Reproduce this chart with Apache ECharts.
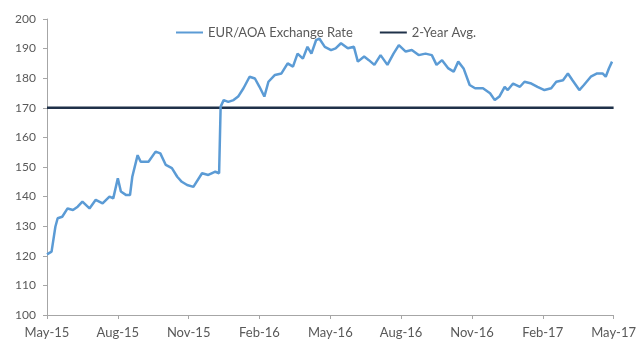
<!DOCTYPE html>
<html>
<head>
<meta charset="utf-8">
<script src="https://cdn.jsdelivr.net/npm/echarts@6/dist/echarts.min.js"></script>
<style>
  html, body { margin: 0; padding: 0; background: #fff; }
  #chart { width: 639px; height: 340px; }
</style>
</head>
<body>
<div id="chart"></div>
<script>
// EUR/AOA exchange rate, May 2015 – May 2017
const rateDates = [
  '2015-05-01','2015-05-07','2015-05-12','2015-05-15','2015-05-21','2015-05-28',
  '2015-06-04','2015-06-10','2015-06-16','2015-06-25','2015-07-03','2015-07-12',
  '2015-07-21','2015-07-26','2015-08-01','2015-08-05','2015-08-12','2015-08-17',
  '2015-08-20','2015-08-27','2015-08-31','2015-09-10','2015-09-19','2015-09-25',
  '2015-10-02','2015-10-10','2015-10-17','2015-10-23','2015-10-30','2015-11-07',
  '2015-11-09','2015-11-18','2015-11-26','2015-12-05','2015-12-10','2015-12-12',
  '2015-12-16','2015-12-22','2015-12-29','2016-01-04','2016-01-11','2016-01-19',
  '2016-01-26','2016-02-01','2016-02-07','2016-02-12','2016-02-20','2016-02-28',
  '2016-03-07','2016-03-14','2016-03-20','2016-03-27','2016-04-02','2016-04-07',
  '2016-04-13','2016-04-17','2016-04-24','2016-05-02','2016-05-08','2016-05-15',
  '2016-05-24','2016-06-01','2016-06-06','2016-06-14','2016-06-20','2016-06-27',
  '2016-07-05','2016-07-14','2016-07-22','2016-07-29','2016-08-07','2016-08-15',
  '2016-08-24','2016-09-02','2016-09-10','2016-09-16','2016-09-23','2016-10-01',
  '2016-10-08','2016-10-14','2016-10-21','2016-10-29','2016-11-05','2016-11-15',
  '2016-11-24','2016-11-30','2016-12-06','2016-12-13','2016-12-17','2016-12-24',
  '2017-01-02','2017-01-08','2017-01-17','2017-01-25','2017-02-03','2017-02-11',
  '2017-02-17','2017-02-25','2017-03-03','2017-03-09','2017-03-18','2017-03-24',
  '2017-04-02','2017-04-10','2017-04-17','2017-04-21','2017-04-25','2017-04-29'
];
const rateValues = [
  120.5,121.4,129.8,132.7,133.2,136.0,
  135.5,136.6,138.3,136.0,138.9,137.7,
  140.0,139.4,146.2,141.7,140.5,140.5,
  146.7,154.0,151.8,151.8,155.2,154.6,
  150.7,149.6,146.7,145.0,143.9,143.3,
  143.9,147.9,147.3,148.4,147.9,170.4,
  172.6,172.0,172.6,173.8,176.6,180.5,
  179.9,177.1,173.8,178.8,181.1,181.6,
  185.0,183.9,188.3,186.6,190.6,188.3,
  192.9,193.4,190.6,189.5,190.1,191.8,
  190.1,190.6,185.6,187.3,186.1,184.5,
  187.8,184.5,188.3,191.2,189.0,189.5,
  187.8,188.3,187.8,184.5,186.1,183.3,
  182.2,185.6,183.3,177.7,176.6,176.6,
  174.9,172.6,173.8,177.1,176.0,178.2,
  177.1,178.8,178.2,177.1,176.0,176.6,
  178.8,179.3,181.6,179.3,176.0,177.7,
  180.5,181.6,181.6,180.5,183.3,185.6
];
// the 2-year average, drawn across the whole period
const avgValue = 170;
const avgDates = ['2015-05-01', '2017-05-01'];

const xTickLabels = ['May-15','Aug-15','Nov-15','Feb-16','May-16','Aug-16','Nov-16','Feb-17','May-17'];
const yMin = 100, yMax = 200, yStep = 10;

// position on the x axis measured in months from May 2015
function monthOffset(s) {
  const [y, m, d] = s.split('-').map(Number);
  const dim = new Date(y, m, 0).getDate();
  return (y - 2015) * 12 + (m - 5) + (d - 1) / dim;
}

const rateData = rateDates.map((d, i) => [monthOffset(d), rateValues[i]]);
const avgData = avgDates.map(d => [monthOffset(d), avgValue]);

const axisGray = '#a6a6a6';
const textGray = '#595959';
const font = 'Lato, "Open Sans", sans-serif';

const chart = echarts.init(document.getElementById('chart'), null, { renderer: 'canvas' });
chart.setOption({
  animation: false,
  backgroundColor: '#ffffff',
  grid: { left: 47, right: 21, top: 19, bottom: 25, containLabel: false },
  legend: {
    left: 171, top: 21,
    itemWidth: 27, itemHeight: 2, itemGap: 27,
    icon: 'rect',
    textStyle: { fontFamily: font, fontSize: 13, color: textGray },
    data: ['EUR/AOA Exchange Rate', '2-Year Avg.']
  },
  xAxis: {
    type: 'value', min: 0, max: 24, interval: 3,
    axisLine: { show: true, lineStyle: { color: axisGray, width: 1 } },
    axisTick: { show: true, length: 4, lineStyle: { color: axisGray } },
    splitLine: { show: false },
    axisLabel: {
      fontFamily: font, fontSize: 13, color: textGray, margin: 11,
      formatter: v => xTickLabels[Math.round(v / 3)] || ''
    }
  },
  yAxis: {
    type: 'value', min: yMin, max: yMax, interval: yStep,
    axisLine: { show: true, lineStyle: { color: axisGray, width: 1 } },
    axisTick: { show: true, length: 4, lineStyle: { color: axisGray } },
    splitLine: { show: false },
    axisLabel: { fontFamily: font, fontSize: 12, color: textGray, margin: 11 }
  },
  series: [
    {
      name: 'EUR/AOA Exchange Rate', type: 'line', data: rateData,
      showSymbol: false, symbol: 'none',
      lineStyle: { color: '#5b9bd5', width: 2.5 },
      itemStyle: { color: '#5b9bd5' },
      z: 3
    },
    {
      name: '2-Year Avg.', type: 'line', data: avgData,
      showSymbol: false, symbol: 'none',
      lineStyle: { color: '#1f3149', width: 2.5 },
      itemStyle: { color: '#1f3149' },
      z: 2
    }
  ]
});
</script>
</body>
</html>
